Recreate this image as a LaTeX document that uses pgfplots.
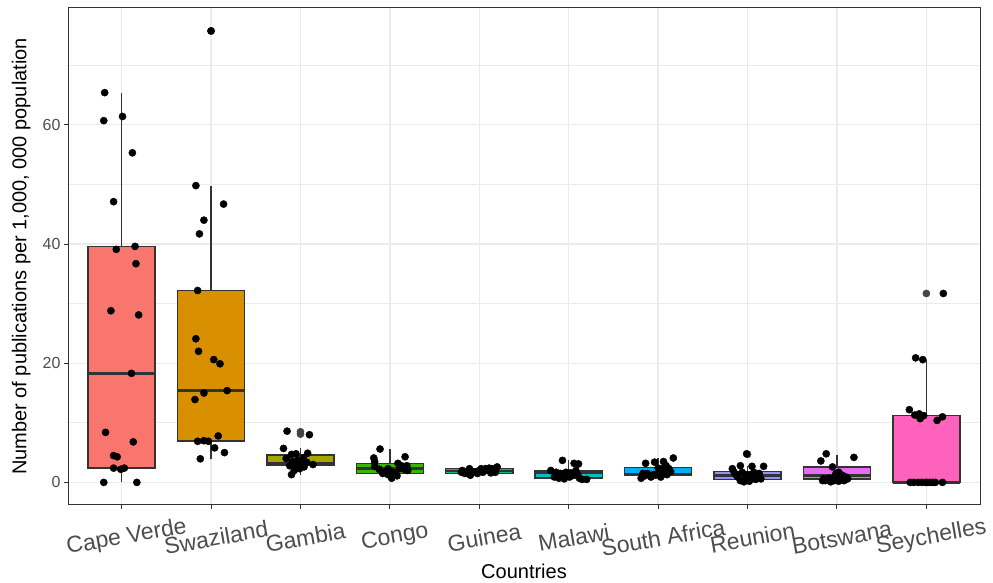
\documentclass[border=0pt]{standalone}
\usepackage{fontspec}
\setmainfont{Liberation Sans}
\usepackage{pgfplots}
\pgfplotsset{compat=1.18}
\usepgfplotslibrary{statistics}

\definecolor{boxline}{HTML}{333333}
\definecolor{gridc}{HTML}{EBEBEB}
\definecolor{tickc}{HTML}{4D4D4D}
\definecolor{outc}{HTML}{454545}
\definecolor{c0}{HTML}{F8766D}
\definecolor{c1}{HTML}{D89000}
\definecolor{c2}{HTML}{A3A500}
\definecolor{c3}{HTML}{39B600}
\definecolor{c4}{HTML}{00BF7D}
\definecolor{c5}{HTML}{00BFC4}
\definecolor{c6}{HTML}{00B0F6}
\definecolor{c7}{HTML}{9590FF}
\definecolor{c8}{HTML}{E76BF3}
\definecolor{c9}{HTML}{FF62BC}

\pgfplotsset{
  ggbox/.style={draw=boxline, fill=#1, line width=1.4pt, mark=none, solid,
    boxplot/draw direction=y,
    boxplot/box extend=0.75, boxplot/whisker extend=0,
    boxplot/every median/.style={line width=2.8pt}},
}

\begin{document}
\begin{tikzpicture}
\useasboundingbox (0,0) rectangle (993pt,583pt);
\begin{axis}[
  at={(68pt,78pt)}, anchor=south west,
  scale only axis, width=912pt, height=497pt,
  xmin=-0.6, xmax=9.6, ymin=-3.79, ymax=79.6,
  xtick={0,...,9},
  xticklabels={Cape Verde,Swaziland,Gambia,Congo,Guinea,Malawi,South Africa,Reunion,Botswana,Seychelles},
  ytick={0,20,40,60}, minor ytick={10,30,50,70},
  ymajorgrids, xmajorgrids, yminorgrids,
  major grid style={draw=gridc, line width=1.3pt},
  minor grid style={draw=gridc, line width=0.65pt},
  axis line style={draw=boxline, line width=1pt},
  tick style={draw=boxline, line width=1pt},
  tick align=outside, major tick length=4pt, minor tick length=0pt,
  xtick pos=bottom, ytick pos=left,
  /pgf/number format/assume math mode=true,
  yticklabel style={font=\fontsize{16}{19}\selectfont, text=tickc},
  xticklabel style={font=\fontsize{23}{27}\selectfont, text=tickc, rotate=10, anchor=center, yshift=-29pt},
  xlabel={Countries},
  ylabel={Number of publications per 1,000, 000 population},
  every axis x label/.style={at={(axis description cs:0.5,-0.1328)}, anchor=center, font=\fontsize{20}{24}\selectfont},
  every axis y label/.style={at={(axis description cs:-0.0373,0.5)}, rotate=90, anchor=south, font=\fontsize{20}{24}\selectfont},
  clip=false,
]

% boxes
\addplot[ggbox=c0, boxplot prepared={draw position=0, lower whisker=0, lower quartile=2.4, median=18.3, upper quartile=39.6, upper whisker=65.4}] coordinates {};
\addplot[ggbox=c1, boxplot prepared={draw position=1, lower whisker=3.96, lower quartile=6.92, median=15.4, upper quartile=32.2, upper whisker=49.8}] coordinates {};
\addplot[ggbox=c2, boxplot prepared={draw position=2, lower whisker=1.3, lower quartile=2.8, median=3.2, upper quartile=4.6, upper whisker=5.7}] coordinates {};
\addplot[ggbox=c3, boxplot prepared={draw position=3, lower whisker=0.7, lower quartile=1.45, median=2.3, upper quartile=3.2, upper whisker=5.6}] coordinates {};
\addplot[ggbox=c4, boxplot prepared={draw position=4, lower whisker=1.2, lower quartile=1.5, median=1.9, upper quartile=2.3, upper whisker=2.6}] coordinates {};
\addplot[ggbox=c5, boxplot prepared={draw position=5, lower whisker=0.5, lower quartile=0.75, median=1.7, upper quartile=2.0, upper whisker=3.7}] coordinates {};
\addplot[ggbox=c6, boxplot prepared={draw position=6, lower whisker=0.7, lower quartile=1.2, median=1.35, upper quartile=2.5, upper whisker=4.1}] coordinates {};
\addplot[ggbox=c7, boxplot prepared={draw position=7, lower whisker=0, lower quartile=0.5, median=1.2, upper quartile=1.8, upper whisker=2.8}] coordinates {};
\addplot[ggbox=c8, boxplot prepared={draw position=8, lower whisker=0.1, lower quartile=0.6, median=1.1, upper quartile=2.6, upper whisker=4.6}] coordinates {};
\addplot[ggbox=c9, boxplot prepared={draw position=9, lower whisker=0, lower quartile=0, median=0, upper quartile=11.2, upper whisker=20.6}] coordinates {};

% outliers
\addplot[only marks, mark=*, mark size=3.6pt, color=outc] coordinates {
  (1,75.75) (2,8.5) (2,8.1) (7,4.7) (9,31.7)
};

% yearly values, jittered
\addplot[only marks, mark=*, mark size=3.6pt, color=black] coordinates {
  (-0.19,65.4) (-0.20,60.7) (0.01,61.4) (0.12,55.3) (-0.09,47.1) (-0.06,39.1) (0.15,39.6) (0.16,36.7) (-0.12,28.8) (0.19,28.1)
  (0.11,18.3) (-0.18,8.4) (0.13,6.8) (-0.09,4.5) (-0.05,4.3) (-0.09,2.4) (-0.01,2.2) (0.03,2.4) (-0.20,0) (0.17,0)
  (1.00,75.75) (0.83,49.8) (1.14,46.7) (0.92,44.0) (0.87,41.7) (0.85,32.2) (0.83,24.1) (0.86,22.0) (1.03,20.6) (1.10,19.9)
  (1.18,15.4) (0.92,15.0) (0.82,13.9) (1.08,7.8) (0.85,6.9) (0.92,7.0) (0.97,6.9) (1.04,5.8) (1.15,5.0) (0.88,3.96)
  (1.85,8.6) (2.10,8.0) (1.81,5.7) (1.90,4.7) (1.95,4.8) (2.08,4.9) (1.84,4.0) (1.91,3.5) (1.97,3.8) (2.03,4.1)
  (2.01,3.4) (2.07,3.4) (2.14,3.0) (1.88,2.8) (1.95,2.7) (2.04,2.6) (1.99,2.3) (1.93,2.0) (1.90,1.3) (2.02,2.8)
  (2.89,5.6) (2.82,4.1) (2.83,3.5) (3.17,4.3) (3.09,3.2) (3.19,2.8) (2.83,2.7) (2.88,2.2) (2.94,1.7) (2.98,2.3)
  (3.03,1.7) (3.06,1.5) (3.11,2.3) (3.13,2.8) (3.20,2.0) (3.02,0.7) (2.98,1.3) (2.92,1.5) (3.08,1.1) (3.16,2.2)
  (3.80,1.7) (3.84,1.5) (3.89,2.3) (3.90,1.2) (3.96,1.7) (4.00,2.0) (4.04,1.7) (4.09,2.0) (4.13,1.6) (4.15,2.3)
  (4.20,2.6) (4.18,1.7) (3.93,1.8) (4.07,2.3) (3.81,2.0) (3.98,1.5) (4.11,2.4) (3.87,1.6) (4.02,2.3) (4.17,2.0)
  (4.93,3.7) (5.06,3.2) (5.11,3.1) (4.80,2.0) (4.86,1.7) (4.91,1.5) (4.97,1.7) (5.02,1.6) (5.08,2.0) (4.84,0.9)
  (4.89,0.7) (4.95,0.6) (5.01,0.9) (5.04,1.2) (5.10,1.3) (5.15,0.5) (5.20,0.5) (5.12,0.7) (4.99,1.2) (4.88,1.3)
  (6.17,4.1) (5.86,3.2) (5.96,3.4) (6.06,3.5) (6.09,2.8) (6.12,2.3) (6.14,1.8) (5.81,0.7) (5.85,1.1) (5.92,0.9)
  (5.97,1.2) (6.03,0.9) (6.07,1.5) (5.88,1.5) (6.01,1.7) (6.10,1.3) (5.83,1.5) (5.95,1.3) (6.05,2.3) (6.00,2.4)
  (6.83,2.3) (6.92,2.8) (7.05,2.7) (7.18,2.7) (6.85,1.7) (6.94,1.7) (7.07,1.7) (7.13,1.5) (6.89,0.9) (6.98,0.7)
  (7.04,0.9) (7.15,0.6) (6.96,0.1) (7.02,0.2) (6.92,0.3) (7.09,0.5) (6.87,1.3) (6.99,4.8) (7.11,1.1) (7.00,1.3)
  (7.88,4.8) (7.82,3.6) (8.19,4.2) (7.95,2.6) (8.02,1.7) (7.99,1.5) (8.06,1.2) (7.85,0.6) (7.91,0.7) (7.97,0.3)
  (8.02,0.2) (8.08,0.3) (8.12,0.6) (7.84,0.3) (8.00,0.9) (8.10,0.9) (7.93,0.1) (8.04,0.7) (7.98,1.1) (7.87,0.3)
  (9.19,31.7) (8.88,20.9) (8.96,20.6) (8.81,12.2) (8.87,11.3) (8.92,11.5) (8.93,10.7) (8.97,11.2) (9.18,11.0) (9.12,10.4)
  (8.82,0) (8.86,0) (8.91,0) (8.95,0) (9.01,0) (9.04,0) (9.07,0) (9.10,0) (9.18,0) (8.99,0)
};
\end{axis}
\end{tikzpicture}
\end{document}
